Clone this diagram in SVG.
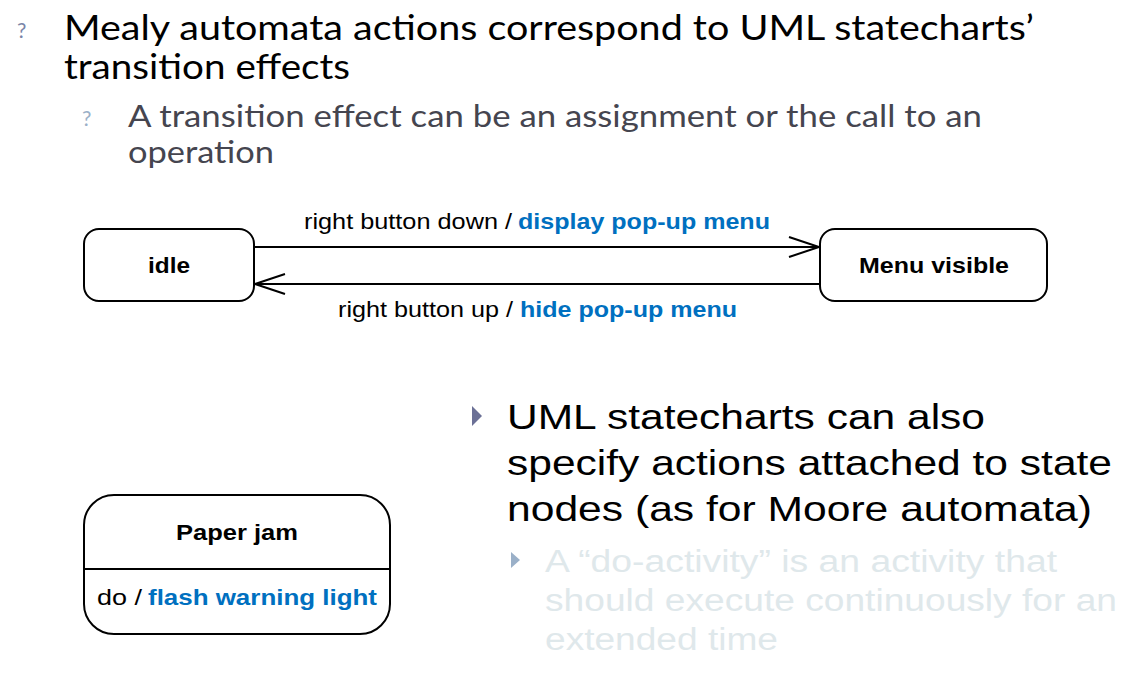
<svg xmlns="http://www.w3.org/2000/svg" width="1135" height="675" viewBox="0 0 1135 675">
<style>
.h{font-family:Lato,"Open Sans","Liberation Sans",sans-serif;}
.a{font-family:"Liberation Sans",Arial,sans-serif;}
.st{fill:#fff;stroke:#000;stroke-width:2;}
.lbl{font-size:22px;fill:#000;}
.b{font-weight:bold;}
.blue{fill:#0070c0;font-weight:bold;}
.conn{stroke:#000;stroke-width:2;fill:none;}
</style>
<rect width="1135" height="675" fill="#fff"/>
<g id="text-top">
<text class="h" x="17" y="38" font-size="21" fill="#7a85a8">?</text>
<text class="h" x="64" y="40" font-size="35" fill="#000" textLength="970" lengthAdjust="spacingAndGlyphs">Mealy automata actions correspond to UML statecharts’</text>
<text class="h" x="64" y="79" font-size="35" fill="#000" textLength="286" lengthAdjust="spacingAndGlyphs">transition effects</text>
<text class="h" x="82" y="126" font-size="21" fill="#9ab0c8">?</text>
<text class="h" x="128" y="127" font-size="31" fill="#45454f" textLength="854" lengthAdjust="spacingAndGlyphs">A transition effect can be an assignment or the call to an</text>
<text class="h" x="128" y="163" font-size="31" fill="#45454f" textLength="146" lengthAdjust="spacingAndGlyphs">operation</text>
</g>
<g id="connectors">
<line class="conn" x1="254" y1="247" x2="819" y2="247"/>
<polyline class="conn" points="789,237 819,247 789,257"/>
<line class="conn" x1="820" y1="284" x2="255" y2="284"/>
<polyline class="conn" points="285,274 255,284 285,294"/>
<text class="a lbl" x="304" y="229" textLength="208" lengthAdjust="spacingAndGlyphs">right button down /</text>
<text class="a lbl blue" x="518" y="229" textLength="252" lengthAdjust="spacingAndGlyphs">display pop-up menu</text>
<text class="a lbl" x="338" y="317" textLength="175" lengthAdjust="spacingAndGlyphs">right button up /</text>
<text class="a lbl blue" x="520" y="317" textLength="217" lengthAdjust="spacingAndGlyphs">hide pop-up menu</text>
</g>
<g id="idle">
<rect class="st" x="84" y="229" width="170" height="72" rx="15"/>
<text class="a lbl b" x="148" y="273" textLength="42" lengthAdjust="spacingAndGlyphs">idle</text>
</g>
<g id="menu-visible">
<rect class="st" x="820" y="229" width="227" height="72" rx="15"/>
<text class="a lbl b" x="859" y="273" textLength="150" lengthAdjust="spacingAndGlyphs">Menu visible</text>
</g>
<g id="paper-jam">
<rect class="st" x="84" y="495" width="306" height="139" rx="30"/>
<line class="conn" x1="84" y1="569" x2="390" y2="569"/>
<text class="a lbl b" x="176" y="540" textLength="122" lengthAdjust="spacingAndGlyphs">Paper jam</text>
<text class="a lbl" x="97" y="605" textLength="45" lengthAdjust="spacingAndGlyphs">do /</text>
<text class="a lbl blue" x="148" y="605" textLength="229" lengthAdjust="spacingAndGlyphs">flash warning light</text>
</g>
<g id="text-right">
<polygon points="472,406 482,416 472,426" fill="#6b7096"/>
<text class="a" x="507" y="429" font-size="35" fill="#000" textLength="478" lengthAdjust="spacingAndGlyphs">UML statecharts can also</text>
<text class="a" x="507" y="475" font-size="35" fill="#000" textLength="605" lengthAdjust="spacingAndGlyphs">specify actions attached to state</text>
<text class="a" x="507" y="521" font-size="35" fill="#000" textLength="585" lengthAdjust="spacingAndGlyphs">nodes (as for Moore automata)</text>
<polygon points="511,552 520,560 511,568" fill="#9ab0c8"/>
<text class="a" x="545" y="572" font-size="31" fill="#dfe8eb" textLength="512" lengthAdjust="spacingAndGlyphs">A “do-activity” is an activity that</text>
<text class="a" x="545" y="611" font-size="31" fill="#dfe8eb" textLength="572" lengthAdjust="spacingAndGlyphs">should execute continuously for an</text>
<text class="a" x="545" y="650" font-size="31" fill="#dfe8eb" textLength="233" lengthAdjust="spacingAndGlyphs">extended time</text>
</g>
</svg>
